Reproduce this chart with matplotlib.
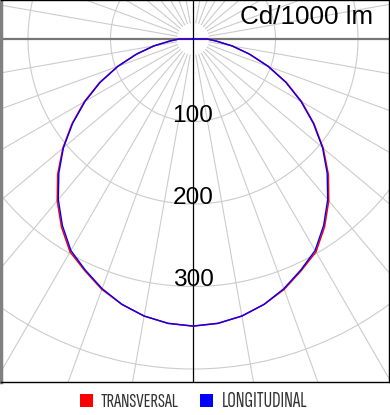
import numpy as np
import matplotlib
matplotlib.use("Agg")
import matplotlib.pyplot as plt
from matplotlib.patches import Rectangle, Circle

# Luminous intensity (cd/1000 lm) versus angle from nadir, 0..90 deg in 5 deg steps
angles_deg = [0, 5, 10, 15, 20, 25, 30, 35, 40, 45, 50, 55, 60, 65, 70, 75, 80, 85, 90]
longitudinal = [348, 346, 341, 333, 322, 309, 296, 276, 254, 230, 205, 178, 151, 124, 97, 71, 48, 28, 17]
transversal = [348, 346, 341, 333, 323, 310, 298, 278, 256, 232, 206, 179, 152, 125, 97, 71, 48, 28, 17]

ring_values = [100, 200, 300, 400]
ring_labels = ["100", "200", "300"]
unit_label = "Cd/1000 lm"
legend_names = ["TRANSVERSAL", "LONGITUDINAL"]
legend_colors = ["#ff0000", "#0000ff"]

W, H = 390, 415
fig = plt.figure(figsize=(W / 100, H / 100), dpi=100)
fig.patch.set_facecolor("white")

# axes box in pixels
x0, x1 = 1.0, 388.5
y_top, y_bot = 0.0, 381.5
cx, cy = 193.0, 39.0
s = 0.825  # px per cd/klm

ax = fig.add_axes([x0 / W, (H - y_bot) / H, (x1 - x0) / W, (y_bot - y_top) / H])
ax.set_xlim(-(cx - x0) / s, (x1 - cx) / s)
ax.set_ylim(-(y_bot - cy) / s, (cy - y_top) / s)
ax.set_xticks([])
ax.set_yticks([])
for side in ["top", "right", "bottom"]:
    ax.spines[side].set_color("black")
    ax.spines[side].set_linewidth(1.0)
ax.spines["left"].set_color("#808080")
ax.spines["left"].set_linewidth(2.5)

grid_c = "#cccccc"
# radial spokes every 10 degrees
for a in range(0, 360, 10):
    if a % 90 == 0:
        continue
    t = np.deg2rad(a)
    ax.plot([20 * np.sin(t), 700 * np.sin(t)], [-20 * np.cos(t), -700 * np.cos(t)],
            color=grid_c, lw=0.8, zorder=1)
# rings
for r in ring_values:
    ax.add_patch(Circle((0, 0), r, fill=False, ec=grid_c, lw=0.8, zorder=1))

# main axes
ax.axhline(0, color="#777777", lw=1.6, zorder=2)
ax.axvline(0, color="black", lw=0.9, zorder=2)

# ring labels
for r, lab in zip(ring_values, ring_labels):
    ax.text(0, -r, lab, ha="center", va="baseline", fontsize=17.6,
            family="Liberation Sans", color="black", zorder=5)


def curve(values):
    full_ang = list(angles_deg) + list(range(95, 185, 5))
    full_val = list(values) + [0] * len(range(95, 185, 5))
    ang = np.deg2rad(np.array([-a for a in full_ang[::-1]] + full_ang[1:]))
    val = np.array(full_val[::-1] + full_val[1:], dtype=float)
    return val * np.sin(ang), -val * np.cos(ang)


xt, yt = curve(transversal)
xl, yl = curve(longitudinal)
ax.plot(xt, yt, color=legend_colors[0], lw=1.1, zorder=3)
ax.plot(xl, yl, color=legend_colors[1], lw=1.0, zorder=4)

fig.text(373 / W, 1 - 24 / H, unit_label, ha="right", va="baseline",
         fontsize=18.7, family="Liberation Sans", color="black")

# legend below the plot, narrow typeface sized to fit its slot
leg_family = ["Sofia Sans Extra Condensed", "Sofia Sans Condensed", "DejaVu Sans"]
renderer = fig.canvas.get_renderer()
sq = 13
for (lx, tx, tw), name, col in zip([(80, 101, 79), (200, 222, 86)], legend_names, legend_colors):
    fig.patches.append(Rectangle((lx / W, (H - 407) / H), sq / W, sq / H,
                                 transform=fig.transFigure, fc=col, ec="none"))
    t = fig.text(tx / W, 1 - 406.5 / H, name, ha="left", va="baseline", fontsize=10,
                 family=leg_family, fontstretch="condensed", color="#333333")
    w = t.get_window_extent(renderer=renderer).width
    t.set_fontsize(10 * tw / w)

fig.savefig("out.png", dpi=100, facecolor="white")
